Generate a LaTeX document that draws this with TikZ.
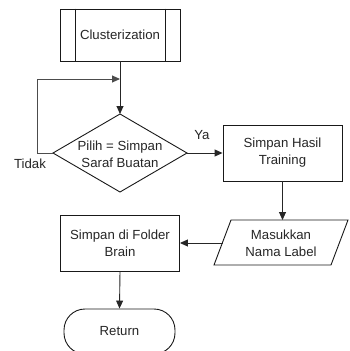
\documentclass[tikz,border=0pt]{standalone}
\usepackage{fontspec}
\setmainfont{Liberation Sans}
\usetikzlibrary{arrows.meta,calc}
\begin{document}
\begin{tikzpicture}[x=1pt,y=-1pt,
  every node/.style={font=\fontsize{13.2}{17}\selectfont, text=black!85, align=center},
  shp/.style={draw=black!90, line width=0.9pt},
  box/.style={shp, minimum width=119pt, minimum height=56pt, inner sep=0pt},
  conn/.style={draw=black!85, line width=0.9pt, -{Triangle[length=8pt,width=7pt]}},
  loopconn/.style={conn, draw=black!70}
]
\useasboundingbox (0,0) rectangle (349,351);

% Clusterization (predefined process)
\node[box, minimum width=120pt, minimum height=52pt] (clu) at (120,35) {Clusterization};
\draw[shp] ($(clu.north west)+(16,0)$) -- ($(clu.south west)+(16,0)$);
\draw[shp] ($(clu.north east)+(-15,0)$) -- ($(clu.south east)+(-15,0)$);

% Decision
\node (dec) at (120,154) {Pilih = Simpan\\Saraf Buatan};
\coordinate (dt) at (120,114);
\coordinate (dl) at (53,153);
\coordinate (dr) at (187,153);
\coordinate (db) at (120,192);
\draw[shp] (dt) -- (dr) -- (db) -- (dl) -- cycle;

% Simpan Hasil Training
\node[box] (hasil) at (282.5,153) {Simpan Hasil\\Training};

% Parallelogram
\node (par) at (281,243) {Masukkan\\Nama Label};
\coordinate (pt) at (282.5,220);
\coordinate (pl) at (222.5,243);
\draw[shp] (231,220) -- (348,220) -- (331,265) -- (214,265) -- cycle;

% Simpan di Folder Brain
\node[box] (fold) at (120,243) {Simpan di Folder\\Brain};

% Return terminator
\node[shp, rounded corners=21pt, minimum width=111pt, minimum height=45pt, inner sep=0pt] (ret) at (119.5,331.5) {};
\node (rettext) at (119.5,331) {Return};

% Labels
\node (ya) at (202,135) {Ya};
\node (tidak) at (30,164) {Tidak};

% Connectors
\coordinate (lp1) at (37,153);
\coordinate (lp2) at (37,79);
\coordinate (jn) at (120,79);
\draw[conn] (clu.south) -- (dt);
\draw[loopconn] (dl) -- (lp1) -- (lp2) -- (jn);
\draw[conn] (dr) -- (hasil.west);
\draw[conn] (hasil.south) -- (pt);
\draw[conn] (pl) -- (fold.east);
\draw[conn] (fold.south) -- (ret.north);
\end{tikzpicture}
\end{document}
